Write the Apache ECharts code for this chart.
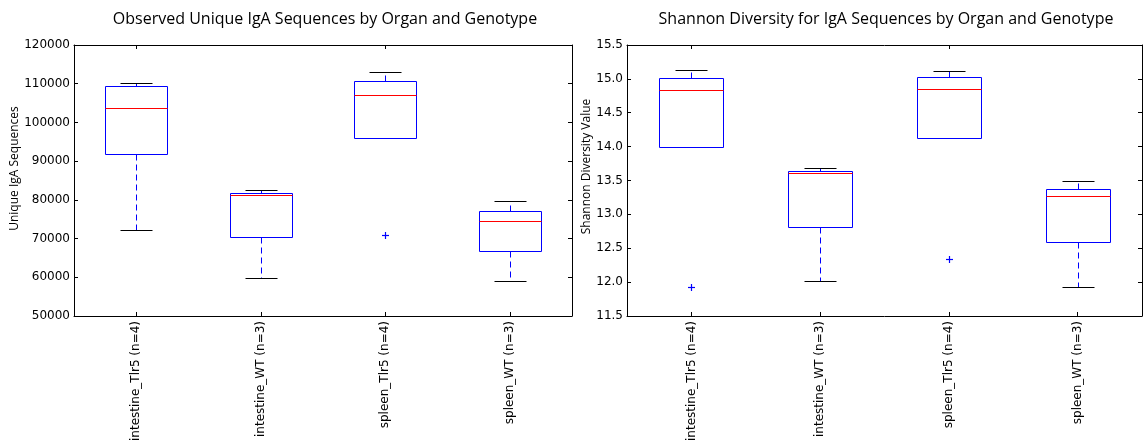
<!DOCTYPE html>
<html>
<head>
<meta charset="utf-8">
<script src="https://cdn.jsdelivr.net/npm/echarts@6/dist/echarts.min.js"></script>
<style>
html,body{margin:0;padding:0;background:#fff;}
#chart{width:1143px;height:444px;}
</style>
</head>
<body>
<div id="chart"></div>
<script>
// ---- data ----
const categories = ['intestine_Tlr5 (n=4)', 'intestine_WT (n=3)', 'spleen_Tlr5 (n=4)', 'spleen_WT (n=3)'];

const uniqueLow  = [72300, 59700, 95900, 59100];
const uniqueQ1   = [91950, 70400, 95900, 66700];
const uniqueMed  = [103850, 81200, 107100, 74500];
const uniqueQ3   = [109300, 81850, 110600, 77050];
const uniqueHigh = [110250, 82450, 113000, 79600];
const uniqueOutliers = [[2, 70900]];

const shannonLow  = [14.00, 12.015, 14.12, 11.927];
const shannonQ1   = [14.00, 12.817, 14.12, 12.598];
const shannonMed  = [14.834, 13.617, 14.854, 13.266];
const shannonQ3   = [15.019, 13.646, 15.024, 13.373];
const shannonHigh = [15.126, 13.680, 15.111, 13.490];
const shannonOutliers = [[0, 11.922], [2, 12.344]];

const uniqueTicks = { min: 50000, max: 120000, interval: 10000 };
const shannonTicks = { min: 11.5, max: 15.5, interval: 0.5 };

// ---- helpers ----
function boxData(low, q1, med, q3, high) {
  return categories.map((c, i) => [i, low[i], q1[i], med[i], q3[i], high[i]]);
}

const BLUE = '#0000ff', RED = '#ff0000', BLACK = '#000000';
const crisp = v => Math.round(v) + 0.5;

function renderBox(params, api) {
  const xi = api.value(0);
  const band = api.size([1, 0])[0];
  const half = Math.round(band * 0.25), capHalf = Math.round(band * 0.125);
  const yLow = crisp(api.coord([xi, api.value(1)])[1]);
  const yQ1 = crisp(api.coord([xi, api.value(2)])[1]);
  const pMed = api.coord([xi, api.value(3)]);
  const yMed = crisp(pMed[1]);
  const yQ3 = crisp(api.coord([xi, api.value(4)])[1]);
  const yHigh = crisp(api.coord([xi, api.value(5)])[1]);
  const cx = crisp(pMed[0]);
  const dash = { stroke: BLUE, lineWidth: 1, lineDash: [6, 4] };
  return {
    type: 'group',
    children: [
      { type: 'line', shape: { x1: cx, y1: yQ3, x2: cx, y2: yHigh }, style: dash },
      { type: 'line', shape: { x1: cx, y1: yQ1, x2: cx, y2: yLow }, style: dash },
      { type: 'line', shape: { x1: cx - capHalf, y1: yHigh, x2: cx + capHalf, y2: yHigh }, style: { stroke: BLACK, lineWidth: 1 } },
      { type: 'line', shape: { x1: cx - capHalf, y1: yLow, x2: cx + capHalf, y2: yLow }, style: { stroke: BLACK, lineWidth: 1 } },
      { type: 'rect', shape: { x: cx - half, y: yQ3, width: 2 * half, height: yQ1 - yQ3 }, style: { fill: 'none', stroke: BLUE, lineWidth: 1 } },
      { type: 'line', shape: { x1: cx - half, y1: yMed, x2: cx + half, y2: yMed }, style: { stroke: RED, lineWidth: 1 } }
    ]
  };
}

function renderPlus(params, api) {
  const p = api.coord([api.value(0), api.value(1)]);
  const x = crisp(p[0]), y = crisp(p[1]);
  const s = 3.5;
  return {
    type: 'group',
    children: [
      { type: 'line', shape: { x1: x - s, y1: y, x2: x + s, y2: y }, style: { stroke: BLUE, lineWidth: 1.2 } },
      { type: 'line', shape: { x1: x, y1: y - s, x2: x, y2: y + s }, style: { stroke: BLUE, lineWidth: 1.2 } }
    ]
  };
}

const tickFont = { fontFamily: 'DejaVu Sans', fontSize: 12, color: '#000' };
const axisLine = { show: true, lineStyle: { color: '#000', width: 1 } };

function xAxes(gridIndex) {
  return [
    {
      type: 'category', gridIndex, position: 'bottom', data: categories,
      axisLine, axisTick: { show: true, inside: true, alignWithLabel: true, length: 4, lineStyle: { color: '#000' } },
      axisLabel: Object.assign({ rotate: 90, margin: 5, interval: 0 }, tickFont),
      splitLine: { show: false }
    },
    {
      type: 'category', gridIndex, position: 'top', data: categories,
      axisLine, axisTick: { show: true, inside: true, alignWithLabel: true, length: 4, lineStyle: { color: '#000' } },
      axisLabel: { show: false }, splitLine: { show: false }
    }
  ];
}

function yAxes(gridIndex, ticks, name, nameGap, shift, decimals) {
  const fmt = v => decimals ? v.toFixed(decimals) : String(v);
  return [
    {
      type: 'value', gridIndex, position: 'left', min: ticks.min, max: ticks.max, interval: ticks.interval,
      name, nameLocation: 'middle', nameGap, nameRotate: 90,
      nameTextStyle: { fontFamily: 'Open Sans', fontSize: 12, color: '#000', padding: [0, 0, 0, shift] },
      axisLine, axisTick: { show: true, inside: true, length: 4, lineStyle: { color: '#000' } },
      axisLabel: Object.assign({ margin: 4, formatter: fmt }, tickFont),
      splitLine: { show: false }
    },
    {
      type: 'value', gridIndex, position: 'right', min: ticks.min, max: ticks.max, interval: ticks.interval,
      axisLine, axisTick: { show: true, inside: true, length: 4, lineStyle: { color: '#000' } },
      axisLabel: { show: false }, splitLine: { show: false }
    }
  ];
}

const chart = echarts.init(document.getElementById('chart'), null, { renderer: 'canvas' });
chart.setOption({
  animation: false,
  backgroundColor: '#fff',
  title: [
    { text: 'Observed Unique IgA Sequences by Organ and Genotype', left: 320, top: 6, textAlign: 'center',
      textStyle: { fontFamily: 'Open Sans', fontSize: 16, fontWeight: 'normal', color: '#000' } },
    { text: 'Shannon Diversity for IgA Sequences by Organ and Genotype', left: 881, top: 6, textAlign: 'center',
      textStyle: { fontFamily: 'Open Sans', fontSize: 16, fontWeight: 'normal', color: '#000' } }
  ],
  grid: [
    { left: 74, top: 45, width: 498, height: 273 },
    { left: 627, top: 45, width: 515, height: 273 }
  ],
  xAxis: [...xAxes(0), ...xAxes(1)],
  yAxis: [
    ...yAxes(0, uniqueTicks, 'Unique IgA Sequences', 50, 24, 0),
    ...yAxes(1, shannonTicks, 'Shannon Diversity Value', 33, 28, 1)
  ],
  series: [
    { type: 'custom', xAxisIndex: 0, yAxisIndex: 0, renderItem: renderBox,
      data: boxData(uniqueLow, uniqueQ1, uniqueMed, uniqueQ3, uniqueHigh), encode: { x: 0, y: [1, 2, 3, 4, 5] } },
    { type: 'custom', xAxisIndex: 0, yAxisIndex: 0, renderItem: renderPlus, data: uniqueOutliers, encode: { x: 0, y: 1 } },
    { type: 'custom', xAxisIndex: 2, yAxisIndex: 2, renderItem: renderBox,
      data: boxData(shannonLow, shannonQ1, shannonMed, shannonQ3, shannonHigh), encode: { x: 0, y: [1, 2, 3, 4, 5] } },
    { type: 'custom', xAxisIndex: 2, yAxisIndex: 2, renderItem: renderPlus, data: shannonOutliers, encode: { x: 0, y: 1 } }
  ]
});
</script>
</body>
</html>
